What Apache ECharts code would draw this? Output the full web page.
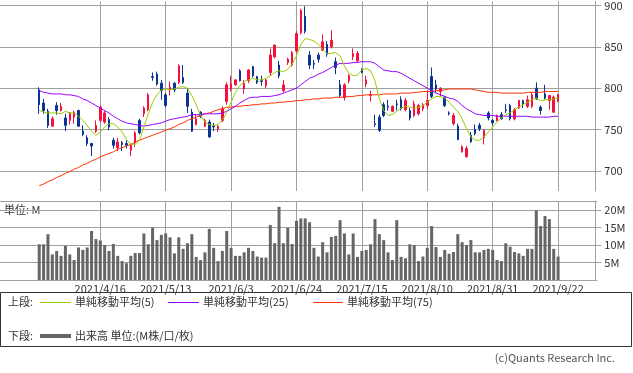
<!DOCTYPE html>
<html><head><meta charset="utf-8">
<script src="https://cdn.jsdelivr.net/npm/echarts@6.0.0/dist/echarts.min.js"></script>
<style>html,body{margin:0;padding:0;background:#fff}#c{width:633px;height:373px}</style>
</head><body><div id="c"></div>
<script>
const dates = ["2021/3/29","2021/3/30","2021/3/31",
"2021/4/1","2021/4/2","2021/4/5","2021/4/6","2021/4/7","2021/4/8","2021/4/9","2021/4/12","2021/4/13","2021/4/14","2021/4/15","2021/4/16","2021/4/19","2021/4/20","2021/4/21","2021/4/22","2021/4/23","2021/4/26","2021/4/27","2021/4/28","2021/4/30",
"2021/5/6","2021/5/7","2021/5/10","2021/5/11","2021/5/12","2021/5/13","2021/5/14","2021/5/17","2021/5/18","2021/5/19","2021/5/20","2021/5/21","2021/5/24","2021/5/25","2021/5/26","2021/5/27","2021/5/28","2021/5/31",
"2021/6/1","2021/6/2","2021/6/3","2021/6/4","2021/6/7","2021/6/8","2021/6/9","2021/6/10","2021/6/11","2021/6/14","2021/6/15","2021/6/16","2021/6/17","2021/6/18","2021/6/21","2021/6/22","2021/6/23","2021/6/24","2021/6/25","2021/6/28","2021/6/29","2021/6/30",
"2021/7/1","2021/7/2","2021/7/5","2021/7/6","2021/7/7","2021/7/8","2021/7/9","2021/7/12","2021/7/13","2021/7/14","2021/7/15","2021/7/16","2021/7/19","2021/7/20","2021/7/21","2021/7/26","2021/7/27","2021/7/28","2021/7/29","2021/7/30",
"2021/8/2","2021/8/3","2021/8/4","2021/8/5","2021/8/6","2021/8/10","2021/8/11","2021/8/12","2021/8/13","2021/8/16","2021/8/17","2021/8/18","2021/8/19","2021/8/20","2021/8/23","2021/8/24","2021/8/25","2021/8/26","2021/8/27","2021/8/30","2021/8/31",
"2021/9/1","2021/9/2","2021/9/3","2021/9/6","2021/9/7","2021/9/8","2021/9/9","2021/9/10","2021/9/13","2021/9/14","2021/9/15","2021/9/16","2021/9/17","2021/9/21","2021/9/22"];

const tickLabels = ["2021/4/16","2021/5/13","2021/6/3","2021/6/24","2021/7/15","2021/8/10","2021/8/31","2021/9/22"];

const opens = [798,782,772,754,779,773,764,761,765,773,
 748,740,733,748,761,759,762,737,728,734,
 733,725,734,761,769,774,814,817,806,792,
 798,806,807,813,794,771,756,771,754,759,
 754,751,761,784,799,804,821,799,809,826,
 814,809,803,819,838,828,797,831,828,845,
 867,887,840,830,840,846,853,850,832,804,
 789,809,838,833,823,805,791,757,765,780,
 778,772,781,786,774,773,767,769,775,779,
 814,804,796,789,770,757,754,723,717,743,
 750,755,740,770,761,761,768,774,779,763,
 776,785,778,778,800,777,793,785,771,785];
const closes = [780,773,755,763,773,778,755,770,771,754,
 744,733,730,755,777,770,753,731,735,732,
 731,731,746,746,776,792,813,805,797,779,
 801,798,827,807,778,748,763,766,761,741,
 753,754,775,804,805,810,809,806,822,815,
 807,808,810,840,852,815,804,835,843,866,
 894,869,828,829,835,856,841,858,825,791,
 804,815,842,842,819,810,792,756,749,767,
 777,778,780,775,785,764,781,779,780,785,
 790,799,800,779,769,767,738,729,727,735,
 745,751,749,764,758,767,763,773,763,774,
 785,781,786,792,787,773,788,791,789,792];
const lows = [769,769,752,754,768,772,748,756,757,753,
 742,730,718,746,759,757,749,727,724,724,
 727,718,729,744,765,772,809,803,786,777,
 791,795,805,805,770,747,755,764,753,740,
 748,747,759,780,796,803,808,793,806,813,
 805,803,800,815,836,812,795,828,826,843,
 865,866,823,823,831,845,838,848,817,789,
 785,806,834,831,818,801,784,753,747,765,
 773,771,773,773,772,761,765,767,772,775,
 788,795,790,777,767,755,737,722,716,734,
 743,748,732,761,755,760,762,770,761,761,
 775,776,776,776,786,768,786,774,770,783];
const highs = [801,787,775,766,783,782,769,771,773,774,
 755,743,734,761,779,773,765,740,740,736,
 737,733,748,763,778,794,819,820,810,794,
 808,807,829,828,800,775,768,772,763,762,
 758,755,778,807,815,811,823,810,823,827,
 815,815,811,848,853,833,810,837,845,869,
 896,899,845,834,843,865,857,870,837,810,
 806,817,848,845,824,815,797,768,768,783,
 786,779,786,790,788,776,785,781,782,797,
 825,810,801,791,772,770,757,731,730,747,
 756,758,750,772,763,768,771,781,781,776,
 786,786,791,795,807,779,804,792,791,793];

const ma5 = [773,771,770,770,770,769,772,770,770,766,
 761,755,748,743,747,753,757,757,753,747,
 738,732,732,737,753,769,783,792,798,799,
 798,799,801,802,800,791,780,767,759,756,
 755,756,761,771,783,795,803,808,810,812,
 810,810,812,815,819,821,820,823,829,839,
 853,860,859,857,853,847,842,842,843,839,
 827,818,815,816,822,824,821,809,787,773,
 767,768,772,776,778,777,776,777,779,783,
 787,790,790,788,783,777,772,763,751,741,
 737,737,741,747,753,759,764,768,770,774,
 777,780,783,786,788,785,786,786,787,788];
const ma25 = [797,795,794,793,793,793,792,792,791,790,
 787,785,782,779,776,773,770,766,763,760,
 758,757,756,755,754,755,756,757,758,760,
 762,763,764,765,766,768,768,768,769,769,
 769,769,770,772,775,778,782,785,788,789,
 789,790,790,790,791,792,794,796,798,800,
 804,808,812,814,817,819,822,825,828,830,
 830,830,831,831,832,832,832,830,826,822,
 821,820,820,818,815,812,809,806,803,800,
 797,794,792,790,788,787,784,779,775,772,
 769,768,767,767,767,766,766,766,766,766,
 766,766,766,765,765,765,765,765,766,766];
const ma75 = [682,684,687,689,692,694,697,699,702,704,
 707,709,712,714,717,719,721,723,726,728,
 730,732,735,737,739,741,743,745,747,749,
 751,753,756,758,761,763,765,767,769,770,
 772,774,775,777,777,778,778,779,779,780,
 780,781,781,782,782,783,783,784,784,785,
 785,786,786,787,787,788,788,788,789,789,
 789,790,790,791,791,792,792,792,792,793,
 793,793,793,794,794,794,795,795,796,796,
 796,797,797,798,799,799,799,799,799,799,
 798,797,796,795,795,795,794,794,794,794,
 794,794,795,795,795,795,796,796,796,796];

const volumes = [10.2,10.2,13.1,7.3,8.3,6.9,9.8,7.3,5.7,9.3,
 8.6,9.3,14.0,11.7,11.3,10.0,8.3,10.3,6.9,5.4,
 4.8,6.9,7.7,7.7,13.3,10.2,15.0,11.4,12.9,13.3,
 12.2,7.6,12.2,8.9,10.5,13.1,6.6,5.7,7.9,14.6,
 9.2,5.4,8.3,14.0,9.2,6.9,6.9,7.9,9.2,8.3,
 6.7,6.4,6.4,15.7,10.5,20.9,10.5,14.9,10.3,16.9,
 17.6,17.6,16.5,9.2,6.7,10.8,7.9,12.3,12.6,17.1,
 13.3,7.3,13.3,6.6,8.3,8.6,10.2,17.4,13.1,11.4,
 7.9,5.7,17.1,6.6,6.2,10.2,10.0,5.4,6.7,9.2,
 15.4,9.4,6.6,8.6,7.5,8.0,13.1,10.8,10.0,11.4,
 7.9,7.9,8.6,8.9,8.6,5.7,5.4,10.5,9.5,8.0,
 7.6,6.9,8.9,8.9,19.9,15.4,18.3,17.4,8.9,6.7];

const PAD_LEFT = 9, PAD_RIGHT = 9;
const cats = [];
for (let k = 0; k < PAD_LEFT; k++) cats.push('padL' + k);
dates.forEach(d => cats.push(d));
for (let k = 0; k < PAD_RIGHT; k++) cats.push('padR' + k);

const tickSet = new Set(tickLabels);
const showTick = (idx, val) => tickSet.has(val);

const UP = '#f5103f', DOWN = '#0a3494';
const GRID_C = '#a0a0a0';
const NONE = 'rgba(0,0,0,0)';
const FONT = '"Noto Sans CJK JP", "Noto Sans", sans-serif';

const candleData = dates.map((d, i) => [d, opens[i], closes[i], lows[i], highs[i]]);
const lineData = arr => dates.map((d, i) => [d, arr[i]]);
const volData = dates.map((d, i) => [d, volumes[i]]);

const slot = 4.371;
const gridLeft = -1.5;
const gridWidth = (cats.length - 1) * slot;

const chart = echarts.init(document.getElementById('c'), null, {renderer: 'canvas'});

const xCommon = {
  type: 'category', data: cats, boundaryGap: false,
  axisLine: {show: false}, axisTick: {show: false},
  splitLine: {show: true, interval: showTick, lineStyle: {color: GRID_C, width: 1}}
};

const option = {
  animation: false,
  textStyle: {fontFamily: FONT},
  grid: [
    {left: gridLeft, top: 0, width: gridWidth, height: 191},
    {left: gridLeft, top: 201, width: gridWidth, height: 79}
  ],
  xAxis: [
    Object.assign({}, xCommon, {gridIndex: 0, axisLabel: {show: false}}),
    Object.assign({}, xCommon, {gridIndex: 1, axisLabel: {show: true, interval: showTick, color: '#333', fontSize: 11, margin: 3, fontFamily: FONT}})
  ],
  yAxis: [
    {gridIndex: 0, type: 'value', position: 'right', min: 675.6, max: 904.8, offset: -2,
     axisLine: {show: true, lineStyle: {color: GRID_C}},
     axisTick: {show: true, length: 6, lineStyle: {color: GRID_C}},
     axisLabel: {color: '#333', fontSize: 11, margin: 9, showMinLabel: false, showMaxLabel: false, fontFamily: FONT},
     splitLine: {show: true, lineStyle: {color: [NONE, GRID_C, GRID_C, GRID_C, GRID_C, GRID_C, NONE]}}},
    {gridIndex: 1, type: 'value', position: 'right', min: 0, max: 22.57, offset: -2,
     axisLine: {show: true, lineStyle: {color: GRID_C}},
     axisTick: {show: true, length: 6, lineStyle: {color: GRID_C}},
     axisLabel: {color: '#333', fontSize: 11, margin: 9, showMinLabel: false, showMaxLabel: false, fontFamily: FONT,
       formatter: v => v + 'M'},
     splitLine: {show: true, lineStyle: {color: GRID_C}}}
  ],
  series: [
    {type: 'candlestick', xAxisIndex: 0, yAxisIndex: 0, data: candleData,
     encode: {x: 0, y: [1, 2, 3, 4]}, barWidth: 2,
     itemStyle: {color: UP, color0: DOWN, borderColor: UP, borderColor0: DOWN, borderWidth: 1}},
    {type: 'line', xAxisIndex: 0, yAxisIndex: 0, data: lineData(ma75), showSymbol: false,
     lineStyle: {color: '#ff3300', width: 1}, z: 3},
    {type: 'line', xAxisIndex: 0, yAxisIndex: 0, data: lineData(ma25), showSymbol: false,
     lineStyle: {color: '#9900ff', width: 1}, z: 3},
    {type: 'line', xAxisIndex: 0, yAxisIndex: 0, data: lineData(ma5), showSymbol: false,
     lineStyle: {color: '#99cc00', width: 1}, z: 4},
    {type: 'bar', xAxisIndex: 1, yAxisIndex: 1, data: volData, barWidth: 3,
     itemStyle: {color: '#666666'}}
  ],
  graphic: [
    {type: 'text', x: 4, y: 210, style: {text: '単位: M', fill: '#333', font: '11px ' + FONT, verticalAlign: 'middle'}},
    {type: 'rect', shape: {x: 0.5, y: 292.5, width: 631, height: 54}, style: {fill: 'none', stroke: '#333', lineWidth: 1}},
    {type: 'text', x: 8, y: 302, style: {text: '上段:', fill: '#333', font: '11px ' + FONT, verticalAlign: 'middle'}},
    {type: 'line', shape: {x1: 40, y1: 302.5, x2: 71, y2: 302.5}, style: {stroke: '#99cc00', lineWidth: 1}},
    {type: 'text', x: 75, y: 302, style: {text: '単純移動平均(5)', fill: '#333', font: '11px ' + FONT, verticalAlign: 'middle'}},
    {type: 'line', shape: {x1: 168, y1: 302.5, x2: 199, y2: 302.5}, style: {stroke: '#9900ff', lineWidth: 1}},
    {type: 'text', x: 203, y: 302, style: {text: '単純移動平均(25)', fill: '#333', font: '11px ' + FONT, verticalAlign: 'middle'}},
    {type: 'line', shape: {x1: 313, y1: 302.5, x2: 343, y2: 302.5}, style: {stroke: '#ff3300', lineWidth: 1}},
    {type: 'text', x: 347, y: 302, style: {text: '単純移動平均(75)', fill: '#333', font: '11px ' + FONT, verticalAlign: 'middle'}},
    {type: 'text', x: 8, y: 336, style: {text: '下段:', fill: '#333', font: '11px ' + FONT, verticalAlign: 'middle'}},
    {type: 'line', shape: {x1: 40, y1: 336, x2: 71, y2: 336}, style: {stroke: '#666666', lineWidth: 4}},
    {type: 'text', x: 75, y: 336, style: {text: '出来高 単位:(M株/口/枚)', fill: '#333', font: '11px ' + FONT, verticalAlign: 'middle'}},
    {type: 'text', x: 615, y: 358, style: {text: '(c)Quants Research Inc.', fill: '#555', font: '11px ' + FONT, align: 'right', verticalAlign: 'middle'}}
  ]
};
chart.setOption(option);
</script>
</body></html>
